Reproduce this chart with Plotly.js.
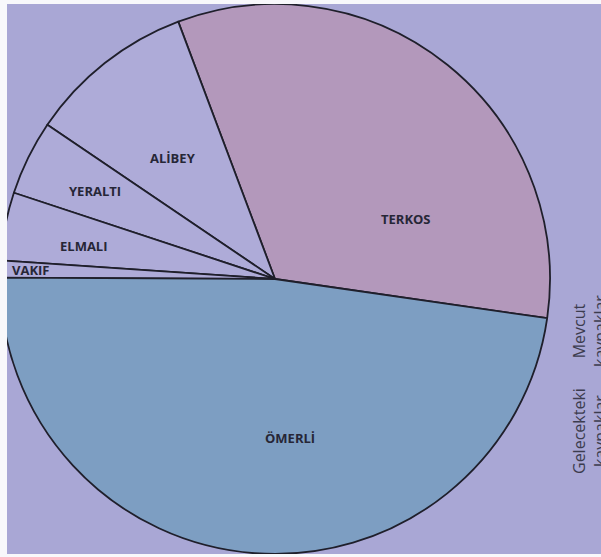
<!DOCTYPE html>
<html>
<head>
<meta charset="utf-8">
<script src="https://cdn.plot.ly/plotly-3.0.1.min.js"></script>
<style>
  html, body { margin:0; padding:0; background:#ffffff; width:601px; height:557px; overflow:hidden; }
  #chart { position:absolute; left:0; top:0; width:601px; height:557px; }
  .strip { position:absolute; background:#f8f8fb; z-index:10; }
</style>
</head>
<body>
<div id="chart"></div>
<div class="strip" style="left:0;top:0;width:7px;height:557px;"></div>
<div class="strip" style="left:0;top:0;width:601px;height:4px;"></div>
<div class="strip" style="left:0;top:554px;width:601px;height:3px;"></div>
<script>
// Data (share of supply, %)
var labels = ["TERKOS", "ALİBEY", "YERALTI", "ELMALI", "VAKIF", "ÖMERLİ"];
var values = [33.0, 9.8, 4.4, 4.0, 1.0, 47.8];
var sliceColors = ["#b398bb", "#aeabd8", "#aeabd8", "#aeabd8", "#aeabd8", "#7d9ec2"];
var sideTexts = ["Gelecekteki<br>kaynaklar", "Mevcut<br>kaynaklar"];

var W = 601, H = 557;
function px(x){ return x / W; }
function py(y){ return 1 - y / H; }

// label anchor positions (pixels)
var labelPos = [[406, 219], [173, 158], [95, 191], [84, 246], [31, 270], [290, 438]];

var annotations = labels.map(function(l, i){
  return {
    text: l, xref: "paper", yref: "paper",
    x: px(labelPos[i][0]), y: py(labelPos[i][1]),
    xanchor: "center", yanchor: "middle", showarrow: false,
    font: {family: "Open Sans", size: 13, color: "#262636", weight: 700}
  };
});
var sidePos = [[589, 431], [589, 331]];
sideTexts.forEach(function(t, i){
  annotations.push({
    text: t, xref: "paper", yref: "paper",
    x: px(sidePos[i][0]), y: py(sidePos[i][1]),
    xanchor: "center", yanchor: "middle", showarrow: false, textangle: -90,
    font: {family: "Open Sans", size: 16, color: "#3c3c4e"}
  });
});

var trace = {
  type: "pie",
  labels: labels,
  values: values,
  sort: false,
  direction: "counterclockwise",
  rotation: -20.6,
  textinfo: "none",
  hoverinfo: "label+percent",
  marker: { colors: sliceColors, line: { color: "#1f1f2b", width: 1.8 } },
  domain: { x: [0, 550 / W], y: [3 / H, 553 / H] }
};

var layout = {
  width: W, height: H,
  margin: {l:0, r:0, t:0, b:0},
  paper_bgcolor: "#a9a7d5",
  plot_bgcolor: "#a9a7d5",
  showlegend: false,
  annotations: annotations
};

Plotly.newPlot("chart", [trace], layout, {displayModeBar: false, staticPlot: true});
</script>
</body>
</html>
